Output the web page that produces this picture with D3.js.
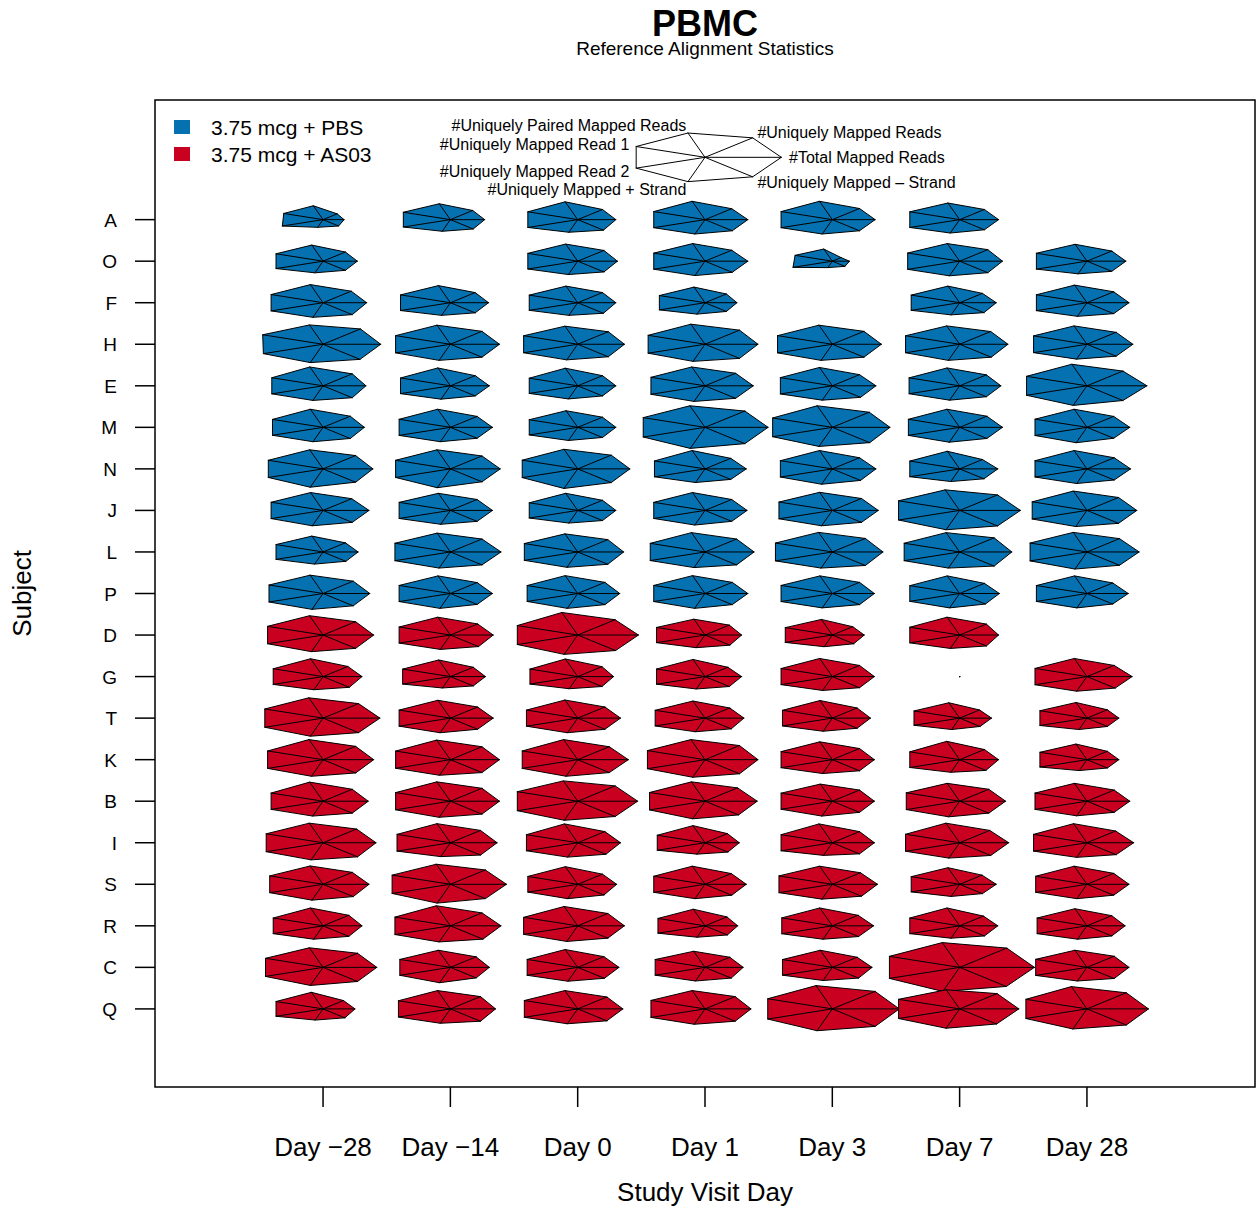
<!DOCTYPE html>
<html>
<head>
<meta charset="utf-8">
<script src="https://cdn.jsdelivr.net/npm/d3@7"></script>
<style>
  body { margin: 0; background: #fff; }
  text { font-family: "Liberation Sans", Arial, Helvetica, sans-serif; fill: #000; }
</style>
</head>
<body>
<svg id="chart" width="1256" height="1214"></svg>
<script>
// ---- data -------------------------------------------------------------
const days = ["Day \u221228", "Day \u221214", "Day 0", "Day 1", "Day 3", "Day 7", "Day 28"];
const subjects = ["A", "O", "F", "H", "E", "M", "N", "J", "L", "P",
                  "D", "G", "T", "K", "B", "I", "S", "R", "C", "Q"];
const groups = ["3.75 mcg + PBS", "3.75 mcg + AS03"];
const subjectGroup = [0, 0, 0, 0, 0, 0, 0, 0, 0, 0, 1, 1, 1, 1, 1, 1, 1, 1, 1, 1];
const groupColors = ["#0571b0", "#ca0020"];

// variables in the order they go round the star (counter-clockwise from east)
const variables = [
  "#Total Mapped Reads",
  "#Uniquely Mapped Reads",
  "#Uniquely Paired Mapped Reads",
  "#Uniquely Mapped Read 1",
  "#Uniquely Mapped Read 2",
  "#Uniquely Mapped + Strand",
  "#Uniquely Mapped \u2013 Strand"
];

// scaled (0-1) alignment statistics; rows = subjects, columns = study days; null = no sample
const totalMapped = [
  [.27,.44,.49,.55,.55,.50,null],
  [.44,null,.51,.55,.22,.55,.50],
  [.56,.49,.49,.41,null,.47,.54],
  [.74,.63,.60,.68,.63,.62,.59],
  [.55,.50,.49,.62,.56,.53,.77],
  [.53,.54,.49,.81,.74,.55,.55],
  [.64,.64,.67,.53,.56,.49,.56],
  [.59,.54,.49,.54,.59,.78,.64],
  [.45,.65,.59,.63,.65,.67,.67],
  [.60,.54,.54,.55,.54,.51,.53],
  [.65,.55,.78,.47,.41,.50,null],
  [.50,.45,.46,.47,.54,0,.58],
  [.73,.55,.55,.50,.49,.41,.41],
  [.65,.63,.65,.68,.54,.50,.41],
  [.58,.63,.77,.67,.54,.59,.55],
  [.68,.60,.55,.44,.54,.63,.60],
  [.59,.72,.50,.53,.58,.47,.54],
  [.50,.65,.60,.42,.53,.49,.49],
  [.69,.50,.53,.49,.51,.96,.54],
  [.41,.58,.58,.59,.86,.76,.79]
];
const uniqueMapped = [
  [.29,.46,.51,.55,.56,.51,null],
  [.46,null,.54,.55,.18,.58,.51],
  [.58,.51,.51,.44,null,.47,.55],
  [.77,.65,.63,.71,.65,.64,.60],
  [.60,.51,.51,.63,.56,.55,.74],
  [.56,.55,.51,.82,.76,.56,.55],
  [.67,.65,.69,.53,.56,.47,.56],
  [.59,.55,.51,.55,.60,.78,.65],
  [.46,.65,.62,.65,.68,.71,.67],
  [.62,.55,.56,.56,.56,.51,.53],
  [.67,.56,.77,.50,.42,.55,null],
  [.51,.47,.50,.47,.56,0,.56],
  [.73,.56,.56,.51,.51,.41,.42],
  [.67,.65,.65,.71,.56,.51,.42],
  [.60,.65,.77,.67,.56,.60,.56],
  [.69,.62,.56,.46,.56,.62,.59],
  [.60,.72,.51,.54,.58,.46,.55],
  [.53,.65,.62,.45,.53,.49,.51],
  [.71,.53,.54,.51,.51,.97,.56],
  [.42,.62,.60,.62,.88,.77,.81]
];
const pairedMapped = [
  [.56,.64,.72,.74,.74,.67,null],
  [.65,null,.69,.71,.49,.71,.68],
  [.73,.69,.67,.63,null,.67,.71],
  [.78,.77,.73,.81,.77,.74,.74],
  [.76,.72,.71,.76,.74,.72,.87],
  [.73,.73,.67,.87,.87,.73,.73],
  [.77,.77,.79,.74,.74,.71,.74],
  [.72,.69,.69,.72,.73,.83,.78],
  [.64,.76,.73,.78,.79,.78,.79],
  [.74,.71,.72,.72,.71,.71,.71],
  [.78,.72,.91,.64,.63,.72,null],
  [.72,.67,.71,.69,.73,0,.73],
  [.82,.72,.73,.69,.71,.62,.63],
  [.81,.79,.81,.81,.72,.74,.63],
  [.77,.78,.82,.78,.69,.72,.72],
  [.79,.77,.76,.69,.76,.79,.77],
  [.74,.81,.71,.73,.73,.67,.73],
  [.72,.81,.78,.67,.72,.72,.69],
  [.79,.69,.72,.65,.69,1.00,.69],
  [.67,.74,.74,.74,.94,.77,.90]
];
const read1 = [
  [.56,.67,.71,.73,.73,.71,null],
  [.67,null,.71,.73,.53,.74,.72],
  [.74,.71,.69,.65,null,.69,.72],
  [.86,.78,.77,.81,.78,.77,.76],
  [.73,.71,.69,.77,.74,.72,.86],
  [.72,.73,.69,.88,.85,.73,.74],
  [.78,.78,.79,.72,.74,.71,.74],
  [.74,.73,.69,.73,.76,.87,.78],
  [.67,.79,.76,.78,.81,.79,.81],
  [.77,.73,.72,.73,.73,.71,.72],
  [.79,.73,.86,.69,.67,.71,null],
  [.71,.68,.68,.69,.73,0,.74],
  [.83,.73,.73,.71,.71,.65,.67],
  [.79,.78,.79,.82,.73,.71,.67],
  [.74,.78,.86,.79,.73,.76,.74],
  [.81,.76,.73,.68,.73,.77,.76],
  [.76,.83,.71,.73,.76,.69,.73],
  [.71,.79,.77,.67,.72,.71,.71],
  [.82,.72,.72,.71,.71,1.00,.73],
  [.67,.74,.76,.77,.92,.87,.87]
];
const read2 = [
  [.58,.67,.71,.73,.73,.71,null],
  [.67,null,.71,.73,.56,.74,.72],
  [.74,.71,.69,.65,null,.69,.72],
  [.85,.78,.77,.81,.78,.77,.76],
  [.73,.71,.69,.77,.74,.72,.86],
  [.72,.73,.69,.88,.85,.73,.74],
  [.78,.78,.79,.72,.74,.71,.74],
  [.74,.73,.69,.73,.76,.87,.78],
  [.67,.79,.76,.78,.81,.79,.81],
  [.77,.73,.72,.73,.73,.71,.72],
  [.79,.73,.86,.69,.67,.71,null],
  [.71,.68,.68,.69,.73,0,.74],
  [.83,.73,.73,.71,.71,.65,.67],
  [.79,.78,.79,.82,.73,.71,.67],
  [.74,.78,.86,.79,.73,.76,.74],
  [.81,.76,.73,.68,.73,.77,.76],
  [.76,.83,.71,.73,.76,.69,.73],
  [.71,.79,.77,.67,.72,.71,.71],
  [.82,.72,.72,.71,.71,1.00,.73],
  [.67,.74,.76,.77,.92,.87,.87]
];
const plusStrand = [
  [.31,.47,.51,.58,.58,.54,null],
  [.47,null,.54,.58,.26,.59,.51],
  [.59,.51,.51,.46,null,.49,.55],
  [.74,.65,.63,.69,.65,.65,.60],
  [.59,.54,.53,.63,.58,.58,.79],
  [.58,.58,.53,.85,.77,.60,.62],
  [.74,.76,.79,.55,.62,.51,.59],
  [.62,.56,.51,.59,.62,.78,.65],
  [.49,.65,.62,.63,.65,.65,.69],
  [.64,.60,.60,.60,.58,.58,.58],
  [.67,.58,.78,.51,.47,.54,null],
  [.53,.46,.49,.50,.56,0,.59],
  [.73,.59,.59,.55,.53,.46,.46],
  [.67,.63,.67,.71,.56,.51,.44],
  [.60,.65,.77,.71,.60,.63,.59],
  [.69,.56,.58,.46,.51,.62,.59],
  [.64,.76,.58,.58,.60,.49,.58],
  [.54,.65,.63,.46,.54,.50,.54],
  [.73,.62,.56,.55,.53,.97,.55],
  [.45,.58,.60,.62,.88,.78,.81]
];
const minusStrand = [
  [.32,.47,.53,.56,.56,.51,null],
  [.46,null,.54,.56,.26,.58,.51],
  [.60,.51,.53,.44,null,.50,.55],
  [.76,.65,.63,.71,.65,.65,.60],
  [.60,.51,.51,.63,.58,.55,.74],
  [.56,.55,.51,.82,.77,.56,.55],
  [.67,.65,.69,.53,.58,.50,.56],
  [.60,.55,.51,.55,.60,.78,.65],
  [.47,.65,.62,.65,.68,.71,.67],
  [.62,.55,.56,.56,.56,.53,.53],
  [.67,.58,.78,.51,.44,.55,null],
  [.54,.47,.50,.50,.56,0,.58],
  [.73,.56,.56,.54,.51,.42,.42],
  [.67,.65,.65,.71,.56,.54,.42],
  [.60,.65,.77,.69,.56,.60,.56],
  [.71,.62,.58,.47,.56,.64,.60],
  [.62,.72,.54,.55,.60,.47,.55],
  [.53,.67,.62,.46,.54,.51,.51],
  [.71,.53,.55,.54,.54,.96,.56],
  [.45,.62,.60,.62,.88,.76,.81]
];
const statTables = [totalMapped, uniqueMapped, pairedMapped, read1, read2, plusStrand, minusStrand];

// ---- layout -----------------------------------------------------------
const W = 1256, H = 1214;
const plot = { left: 155, right: 1255, top: 100, bottom: 1087 };
const LEN = 0.612;          // star radius (in x units) for a scaled value of 1
const KEY_LEN = 0.6;        // radius of the key star
const keyLoc = [4, 21.5];

const xLim = [0, 8], yLim = [0, 22];
const xPad = 0.04 * (xLim[1] - xLim[0]), yPad = 0.04 * (yLim[1] - yLim[0]);
const x = d3.scaleLinear().domain([xLim[0] - xPad, xLim[1] + xPad]).range([plot.left, plot.right]);
const y = d3.scaleLinear().domain([yLim[0] - yPad, yLim[1] + yPad]).range([plot.bottom, plot.top]);

const svg = d3.select("#chart");
svg.append("rect").attr("width", W).attr("height", H).attr("fill", "#fff");

const nVar = variables.length;
const angles = d3.range(nVar).map(k => 2 * Math.PI * k / nVar);

// pixel offsets of a ray of length r (data units) at angle a
const ray = (r, a) => [x(r * Math.cos(a)) - x(0), y(r * Math.sin(a)) - y(0)];

function drawStar(g, cx, cy, vals, len, fill) {
  const pts = vals.map((v, k) => {
    const [dx, dy] = ray(v * len, angles[k]);
    return [cx + dx, cy + dy];
  });
  g.append("polygon")
    .attr("points", pts.map(p => p.join(",")).join(" "))
    .attr("fill", fill)
    .attr("stroke", "#000")
    .attr("stroke-width", 1)
    .attr("stroke-linejoin", "round");
  g.selectAll(null).data(pts).enter().append("line")
    .attr("x1", cx).attr("y1", cy)
    .attr("x2", p => p[0]).attr("y2", p => p[1])
    .attr("stroke", "#000")
    .attr("stroke-width", 1)
    .attr("stroke-linecap", "square");
}

// ---- stars ------------------------------------------------------------
const starLayer = svg.append("g").attr("class", "stars");
subjects.forEach((s, i) => {
  days.forEach((d, j) => {
    const vals = statTables.map(t => t[i][j]);
    if (vals.some(v => v === null)) return;
    const cx = x(j + 1), cy = y(subjects.length - i);
    drawStar(starLayer.append("g"), cx, cy, vals, LEN, groupColors[subjectGroup[i]]);
  });
});

// ---- key star ---------------------------------------------------------
const keyG = svg.append("g").attr("class", "key");
const kx = x(keyLoc[0]), ky = y(keyLoc[1]);
drawStar(keyG, kx, ky, variables.map(() => 1), KEY_LEN, "none");
const keyFont = 16;
variables.forEach((lab, k) => {
  const a = angles[k];
  const deg = a * 180 / Math.PI;
  const [dx, dy] = ray(1.1 * KEY_LEN, a);
  const hAdj = (deg < 90 || deg > 270) ? 0 : 1;
  const vAdj = deg <= 90 ? (1 - deg / 90) / 2
             : deg <= 270 ? (deg - 90) / 180
             : 1 - (deg - 270) / 180;
  keyG.append("text")
    .attr("x", kx + dx)
    .attr("y", ky + dy + vAdj * 0.72 * keyFont)
    .attr("text-anchor", hAdj === 0 ? "start" : "end")
    .attr("font-size", keyFont)
    .text(lab);
});

// ---- frame and axes ---------------------------------------------------
svg.append("rect")
  .attr("x", plot.left).attr("y", plot.top)
  .attr("width", plot.right - plot.left).attr("height", plot.bottom - plot.top)
  .attr("fill", "none").attr("stroke", "#000").attr("stroke-width", 1.5);

const xAxis = svg.append("g").attr("class", "x-axis");
days.forEach((d, j) => {
  const px = x(j + 1);
  xAxis.append("line").attr("x1", px).attr("x2", px)
    .attr("y1", plot.bottom).attr("y2", plot.bottom + 20)
    .attr("stroke", "#000").attr("stroke-width", 1.5);
  xAxis.append("text").attr("x", px).attr("y", 1156)
    .attr("text-anchor", "middle").attr("font-size", 26).text(d);
});

const yAxis = svg.append("g").attr("class", "y-axis");
subjects.forEach((s, i) => {
  const py = y(subjects.length - i);
  yAxis.append("line").attr("x1", plot.left - 20).attr("x2", plot.left)
    .attr("y1", py).attr("y2", py)
    .attr("stroke", "#000").attr("stroke-width", 1.5);
  yAxis.append("text").attr("x", 117).attr("y", py + 7)
    .attr("text-anchor", "end").attr("font-size", 19).text(s);
});

svg.append("text").attr("x", (plot.left + plot.right) / 2).attr("y", 1201)
  .attr("text-anchor", "middle").attr("font-size", 26).text("Study Visit Day");
svg.append("text").attr("transform", `translate(31, ${(plot.top + plot.bottom) / 2}) rotate(-90)`)
  .attr("text-anchor", "middle").attr("font-size", 26).text("Subject");

// ---- titles -----------------------------------------------------------
svg.append("text").attr("x", (plot.left + plot.right) / 2).attr("y", 36)
  .attr("text-anchor", "middle").attr("font-size", 36).attr("font-weight", "bold").text("PBMC");
svg.append("text").attr("x", (plot.left + plot.right) / 2).attr("y", 55)
  .attr("text-anchor", "middle").attr("font-size", 19).text("Reference Alignment Statistics");

// ---- legend -----------------------------------------------------------
const legend = svg.append("g").attr("class", "legend");
groups.forEach((gname, gi) => {
  const top = 120 + gi * 27;
  legend.append("rect").attr("x", 174).attr("y", top).attr("width", 16).attr("height", 14)
    .attr("fill", groupColors[gi]);
  legend.append("text").attr("x", 211).attr("y", top + 15)
    .attr("font-size", 21).text(gname);
});
</script>
</body>
</html>
